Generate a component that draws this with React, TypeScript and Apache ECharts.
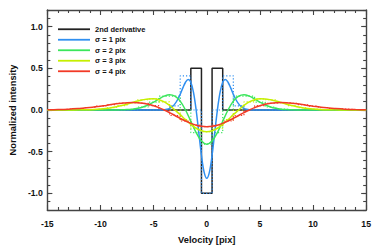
import React, { useEffect, useRef } from "react";
import * as echarts from "echarts";

// ---- data ----
const legendNames = ["2nd derivative", "σ = 1 pix", "σ = 2 pix", "σ = 3 pix", "σ = 4 pix"];
const colors = ["#222222", "#2f8ff0", "#3be65c", "#c6ef00", "#f23a26"];

const pixelX = [-15, -14, -13, -12, -11, -10, -9, -8, -7, -6, -5, -4, -3, -2, -1, 0, 1, 2, 3, 4, 5, 6, 7, 8, 9, 10, 11, 12, 13, 14, 15];
const deriv2Y = [0, 0, 0, 0, 0, 0, 0, 0, 0, 0, 0, 0, 0, 0, 0.5, -1, 0.5, 0, 0, 0, 0, 0, 0, 0, 0, 0, 0, 0, 0, 0, 0];
const blueStepY = [0, 0, 0, 0, 0, 0, 0, 0, 0, 0, 0, 0, 0.05, 0.41, 0, -1, 0, 0.41, 0.05, 0, 0, 0, 0, 0, 0, 0, 0, 0, 0, 0, 0];
const greenStepY = [0, 0, 0, 0, 0, 0, 0, 0.002, 0.01, 0.036, 0.095, 0.166, 0.166, 0, -0.271, -0.41, -0.271, 0, 0.166, 0.166, 0.095, 0.036, 0.01, 0.002, 0, 0, 0, 0, 0, 0, 0];
const yellowStepY = [0, 0, 0, 0, 0.004, 0.012, 0.027, 0.053, 0.089, 0.123, 0.134, 0.097, 0, -0.116, -0.219, -0.26, -0.219, -0.116, 0, 0.097, 0.134, 0.123, 0.089, 0.053, 0.027, 0.012, 0.004, 0, 0, 0, 0];
const redStepY = [0.002, 0.005, 0.01, 0.018, 0.03, 0.046, 0.065, 0.081, 0.089, 0.081, 0.052, 0, -0.066, -0.132, -0.182, -0.2, -0.182, -0.132, -0.066, 0, 0.052, 0.081, 0.089, 0.081, 0.065, 0.046, 0.03, 0.018, 0.01, 0.005, 0.002];

const blueX = [-15, -12, -10, -8, -6, -5, -4.5, -4, -3.75, -3.5, -3.25, -3, -2.75, -2.5, -2.25, -2, -1.75, -1.5, -1.25, -1, -0.75, -0.5, -0.25, 0, 0.25, 0.5, 0.75, 1, 1.25, 1.5, 1.75, 2, 2.25, 2.5, 2.75, 3, 3.25, 3.5, 3.75, 4, 4.5, 5, 6, 8, 10, 12, 15];
const blueY = [0, 0, 0, 0, 0, 0, 0.001, 0.004, 0.009, 0.02, 0.04, 0.073, 0.123, 0.189, 0.265, 0.333, 0.366, 0.333, 0.211, 0, -0.271, -0.543, -0.745, -0.82, -0.745, -0.543, -0.271, 0, 0.211, 0.333, 0.366, 0.333, 0.265, 0.189, 0.123, 0.073, 0.04, 0.02, 0.009, 0.004, 0.001, 0, 0, 0, 0, 0, 0];

const greenX = [-15, -12, -10, -9, -8, -7.5, -7, -6.5, -6, -5.5, -5, -4.5, -4, -3.5, -3, -2.5, -2, -1.5, -1, -0.5, 0, 0.5, 1, 1.5, 2, 2.5, 3, 3.5, 4, 4.5, 5, 5.5, 6, 6.5, 7, 7.5, 8, 9, 10, 12, 15];
const greenY = [0, 0, 0, 0, 0.002, 0.005, 0.01, 0.02, 0.036, 0.061, 0.095, 0.133, 0.166, 0.183, 0.166, 0.106, 0, -0.135, -0.271, -0.373, -0.41, -0.373, -0.271, -0.135, 0, 0.106, 0.166, 0.183, 0.166, 0.133, 0.095, 0.061, 0.036, 0.02, 0.01, 0.005, 0.002, 0, 0, 0, 0];

const yellowX = [-15, -13, -12, -11, -10, -9.5, -9, -8.5, -8, -7.5, -7, -6.5, -6, -5.5, -5, -4.5, -4, -3.5, -3, -2.5, -2, -1.5, -1, -0.5, 0, 0.5, 1, 1.5, 2, 2.5, 3, 3.5, 4, 4.5, 5, 5.5, 6, 6.5, 7, 7.5, 8, 8.5, 9, 9.5, 10, 11, 12, 13, 15];
const yellowY = [0, 0.0004, 0.0015, 0.004, 0.012, 0.018, 0.027, 0.039, 0.053, 0.07, 0.089, 0.107, 0.123, 0.133, 0.134, 0.123, 0.097, 0.055, 0, -0.056, -0.116, -0.172, -0.219, -0.249, -0.26, -0.249, -0.219, -0.172, -0.116, -0.056, 0, 0.055, 0.097, 0.123, 0.134, 0.133, 0.123, 0.107, 0.089, 0.07, 0.053, 0.039, 0.027, 0.018, 0.012, 0.004, 0.0015, 0.0004, 0];

const redX = [-15, -14, -13, -12, -11.5, -11, -10.5, -10, -9.5, -9, -8.5, -8, -7.5, -7, -6.5, -6, -5.5, -5, -4.5, -4, -3.5, -3, -2.5, -2, -1.5, -1, -0.5, 0, 0.5, 1, 1.5, 2, 2.5, 3, 3.5, 4, 4.5, 5, 5.5, 6, 6.5, 7, 7.5, 8, 8.5, 9, 9.5, 10, 10.5, 11, 11.5, 12, 13, 14, 15];
const redY = [0.002, 0.005, 0.01, 0.018, 0.023, 0.03, 0.038, 0.046, 0.055, 0.065, 0.074, 0.081, 0.087, 0.089, 0.088, 0.081, 0.069, 0.052, 0.028, 0, -0.032, -0.066, -0.1, -0.132, -0.16, -0.182, -0.195, -0.2, -0.195, -0.182, -0.16, -0.132, -0.1, -0.066, -0.032, 0, 0.028, 0.052, 0.069, 0.081, 0.088, 0.089, 0.087, 0.081, 0.074, 0.065, 0.055, 0.046, 0.038, 0.03, 0.023, 0.018, 0.01, 0.005, 0.002];

const yLabelValues = [-1, -0.5, 0, 0.5, 1];
const yMinorValues = [-1.2, -1.1, -1, -0.9, -0.8, -0.7, -0.6, -0.5, -0.4, -0.3, -0.2, -0.1, 0, 0.1, 0.2, 0.3, 0.4, 0.5, 0.6, 0.7, 0.8, 0.9, 1, 1.1, 1.2];

const FONT = "Liberation Sans";
const AXIS_COLOR = "#444444";

function pairs(xs: number[], ys: number[]) {
  return xs.map((x, i) => [x, ys[i]]);
}

export default function App() {
  const ref = useRef<HTMLDivElement>(null);
  useEffect(() => {
    const chart = echarts.init(ref.current!, null, { renderer: "svg" });
    const axisLine = { show: true, onZero: false, lineStyle: { color: AXIS_COLOR, width: 1.4 } };
    const noLine = { show: false, onZero: false };
    const tickStyle = { color: AXIS_COLOR, width: 1.1 };
    const xBase = {
      type: "value",
      min: -15,
      max: 15,
      interval: 5,
      axisLine,
      axisTick: { show: true, inside: true, length: 5, lineStyle: tickStyle },
      minorTick: { show: true, splitNumber: 5, length: 3, lineStyle: tickStyle },
      splitLine: { show: false },
      minorSplitLine: { show: false },
    };
    const yBase = {
      type: "value",
      min: -1.2,
      max: 1.2,
      splitLine: { show: false },
    };
    const solid = (name: string, color: string, xs: number[], ys: number[], w = 1.5) => ({
      type: "line",
      name,
      data: pairs(xs, ys),
      smooth: 0.35,
      symbol: "none",
      lineStyle: { color, width: w },
      itemStyle: { color },
      xAxisIndex: 0,
      yAxisIndex: 0,
      z: 3,
    });
    const dotted = (name: string, color: string, ys: number[]) => ({
      type: "line",
      name,
      data: pairs(pixelX, ys),
      step: "middle",
      symbol: "none",
      lineStyle: { color, width: 1.2, type: [1.2, 2] },
      itemStyle: { color },
      xAxisIndex: 0,
      yAxisIndex: 0,
      z: 2,
    });
    const option = {
      animation: false,
      grid: { left: 41.5, right: 7.5, top: 10, bottom: 33.3 },
      legend: {
        data: legendNames,
        orient: "vertical",
        left: 58,
        top: 24,
        padding: 0,
        itemGap: 0,
        itemWidth: 32,
        itemHeight: 1.8,
        icon: "rect",
        textStyle: { fontFamily: FONT, fontWeight: "bold", fontSize: 7.5, color: "#111", lineHeight: 10.5 },
      },
      xAxis: [
        {
          ...xBase,
          position: "bottom",
          axisLabel: { margin: 9, fontFamily: FONT, fontWeight: "bold", fontSize: 8.7, color: "#111" },
          name: "Velocity [pix]",
          nameLocation: "middle",
          nameGap: 25,
          nameTextStyle: { fontFamily: FONT, fontWeight: "bold", fontSize: 9.3, color: "#111" },
        },
        { ...xBase, position: "top", axisLabel: { show: false } },
      ],
      yAxis: [
        {
          ...yBase,
          position: "left",
          axisLine,
          axisTick: { show: true, inside: true, length: 5, lineStyle: tickStyle, customValues: yLabelValues },
          axisLabel: {
            customValues: yLabelValues,
            margin: 4.5,
            fontFamily: FONT,
            fontWeight: "bold",
            fontSize: 8.7,
            color: "#111",
            formatter: (v: number) => v.toFixed(1),
          },
          name: "Normalized intensity",
          nameLocation: "middle",
          nameGap: 28,
          nameTextStyle: { fontFamily: FONT, fontWeight: "bold", fontSize: 9.3, color: "#111" },
        },
        {
          ...yBase,
          position: "left",
          axisLine: noLine,
          axisTick: { show: true, inside: true, length: 3, lineStyle: tickStyle, customValues: yMinorValues },
          axisLabel: { show: false },
        },
        {
          ...yBase,
          position: "right",
          axisLine,
          axisTick: { show: true, inside: true, length: 5, lineStyle: tickStyle, customValues: yLabelValues },
          axisLabel: { show: false },
        },
        {
          ...yBase,
          position: "right",
          axisLine: noLine,
          axisTick: { show: true, inside: true, length: 3, lineStyle: tickStyle, customValues: yMinorValues },
          axisLabel: { show: false },
        },
      ],
      series: [
        {
          type: "line",
          name: legendNames[0],
          data: pairs(pixelX, deriv2Y),
          step: "middle",
          symbol: "none",
          lineStyle: { color: colors[0], width: 1.5 },
          itemStyle: { color: colors[0] },
          z: 2,
        },
        dotted("σ1 samples", colors[1], blueStepY),
        solid(legendNames[1], colors[1], blueX, blueY),
        dotted("σ2 samples", colors[2], greenStepY),
        solid(legendNames[2], colors[2], greenX, greenY),
        dotted("σ3 samples", colors[3], yellowStepY),
        solid(legendNames[3], colors[3], yellowX, yellowY),
        dotted("σ4 samples", colors[4], redStepY),
        solid(legendNames[4], colors[4], redX, redY),
      ],
    };
    chart.setOption(option as any);
    return () => chart.dispose();
  }, []);
  return <div ref={ref} style={{ position: "absolute", left: 0, top: 0, width: 374, height: 249 }} />;
}
